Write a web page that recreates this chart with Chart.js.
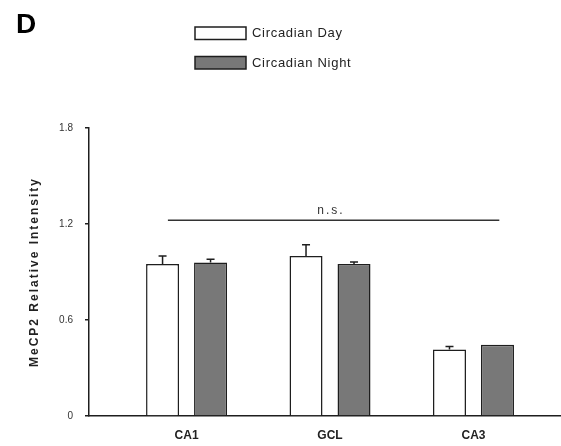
<!DOCTYPE html>
<html>
<head>
<meta charset="utf-8">
<script src="https://cdn.jsdelivr.net/npm/chart.js@4/dist/chart.umd.min.js"></script>
<style>
  html, body { margin: 0; padding: 0; background: #ffffff; }
  #wrap { width: 561px; height: 446px; position: relative; }
</style>
</head>
<body>
<div id="wrap"><canvas id="chart"></canvas></div>
<script>
// Regions measured
const categories = ['CA1', 'GCL', 'CA3'];

// MeCP2 relative intensity, mean and SEM
const dayValues = [0.95, 1.00, 0.415];
const dayErrors = [0.05, 0.07, 0.02];
const nightValues = [0.96, 0.95, 0.445];
const nightErrors = [0.02, 0.012, 0];

// Y axis tick values
const yTicks = [0, 0.6, 1.2, 1.8];

// Non-significance bracket spanning all regions
const nsLabel = 'n.s.';
const nsLevel = 1.224;
const nsSpan = [0.87, 3.18];

const seriesNames = ['Circadian Day', 'Circadian Night'];
const seriesFill = ['#ffffff', '#787878'];
const seriesErrors = [dayErrors, nightErrors];

const toPoints = (vals) => vals.map((v, i) => ({ x: i + 1, y: v }));

const ink = '#1e1e1e';

const decorations = {
  id: 'decorations',
  afterDatasetsDraw(chart) {
    const ctx = chart.ctx;
    const xs = chart.scales.x;
    const ys = chart.scales.y;

    // error bars (upper half with cap)
    ctx.save();
    ctx.strokeStyle = ink;
    ctx.lineWidth = 1.5;
    chart.data.datasets.forEach((ds, di) => {
      const meta = chart.getDatasetMeta(di);
      meta.data.forEach((bar, j) => {
        const err = seriesErrors[di][j];
        if (!err) return;
        const top = ys.getPixelForValue(ds.data[j].y + err);
        ctx.beginPath();
        ctx.moveTo(bar.x, bar.y);
        ctx.lineTo(bar.x, top);
        ctx.moveTo(bar.x - 4, top);
        ctx.lineTo(bar.x + 4, top);
        ctx.stroke();
      });
    });

    // n.s. bracket line
    const y = ys.getPixelForValue(nsLevel);
    const x0 = xs.getPixelForValue(nsSpan[0]);
    const x1 = xs.getPixelForValue(nsSpan[1]);
    ctx.strokeStyle = '#333333';
    ctx.lineWidth = 1.5;
    ctx.beginPath();
    ctx.moveTo(x0, y);
    ctx.lineTo(x1, y);
    ctx.stroke();
    ctx.fillStyle = '#333333';
    ctx.font = '12px "Liberation Sans", Arial, sans-serif';
    ctx.letterSpacing = '2px';
    ctx.textAlign = 'center';
    ctx.textBaseline = 'alphabetic';
    ctx.fillText(nsLabel, xs.getPixelForValue(2) + 1, y - 6);
    ctx.restore();
  },
  afterDraw(chart) {
    const ctx = chart.ctx;
    const area = chart.chartArea;
    ctx.save();

    // panel letter
    ctx.fillStyle = '#000000';
    ctx.font = 'bold 28px "Liberation Sans", Arial, sans-serif';
    ctx.textAlign = 'left';
    ctx.textBaseline = 'alphabetic';
    ctx.fillText('D', 16, 33);

    // legend
    ctx.font = '13px "Liberation Sans", Arial, sans-serif';
    ctx.letterSpacing = '0.7px';
    ctx.textBaseline = 'middle';
    seriesNames.forEach((name, i) => {
      const top = 27 + i * 29.5;
      ctx.fillStyle = seriesFill[i];
      ctx.fillRect(195, top, 51, 12.5);
      ctx.strokeStyle = ink;
      ctx.lineWidth = 1.5;
      ctx.strokeRect(195, top, 51, 12.5);
      ctx.fillStyle = '#222222';
      ctx.fillText(name, 252, top + 6.5);
    });

    // y axis title
    ctx.translate(35, (area.top + area.bottom) / 2);
    ctx.rotate(-Math.PI / 2);
    ctx.font = 'bold 12px "Liberation Sans", Arial, sans-serif';
    ctx.letterSpacing = '2px';
    ctx.textAlign = 'center';
    ctx.textBaseline = 'middle';
    ctx.fillStyle = '#222222';
    ctx.fillText('MeCP2 Relative Intensity', 0, 0);
    ctx.restore();
  }
};

new Chart(document.getElementById('chart'), {
  type: 'bar',
  data: {
    datasets: seriesNames.map((name, i) => ({
      label: name,
      data: toPoints(i === 0 ? dayValues : nightValues),
      backgroundColor: seriesFill[i],
      borderColor: ink,
      borderWidth: 1.5,
      borderSkipped: 'bottom',
      categoryPercentage: 0.669,
      barPercentage: 0.6875
    }))
  },
  options: {
    responsive: true,
    maintainAspectRatio: false,
    animation: false,
    layout: { padding: { top: 128, left: 0, right: 0, bottom: 0 } },
    plugins: {
      legend: { display: false },
      tooltip: { enabled: false }
    },
    scales: {
      x: {
        type: 'linear',
        min: 0.32,
        max: 3.61,
        offset: false,
        bounds: 'data',
        afterBuildTicks: (s) => { s.ticks = categories.map((c, i) => ({ value: i + 1 })); },
        afterFit: (s) => { s.height = 30; },
        grid: { display: false, drawTicks: false, offset: false },
        border: { display: true, color: ink, width: 1.5 },
        ticks: {
          autoSkip: false,
          maxRotation: 0,
          padding: 12,
          color: '#222222',
          font: { family: '"Liberation Sans", Arial, sans-serif', size: 12, weight: 'bold' },
          callback: (v) => categories[Math.round(v) - 1]
        }
      },
      y: {
        min: 0,
        max: 1.8,
        afterBuildTicks: (s) => { s.ticks = yTicks.map(v => ({ value: v })); },
        afterFit: (s) => { s.width = 89; },
        grid: { drawOnChartArea: false, drawTicks: true, tickLength: 4, color: ink, lineWidth: 1.5 },
        border: { display: true, color: ink, width: 1.5 },
        ticks: {
          padding: 12,
          color: '#333333',
          font: { family: '"Liberation Sans", Arial, sans-serif', size: 10 },
          callback: (v) => String(v)
        }
      }
    }
  },
  plugins: [decorations]
});
</script>
</body>
</html>
